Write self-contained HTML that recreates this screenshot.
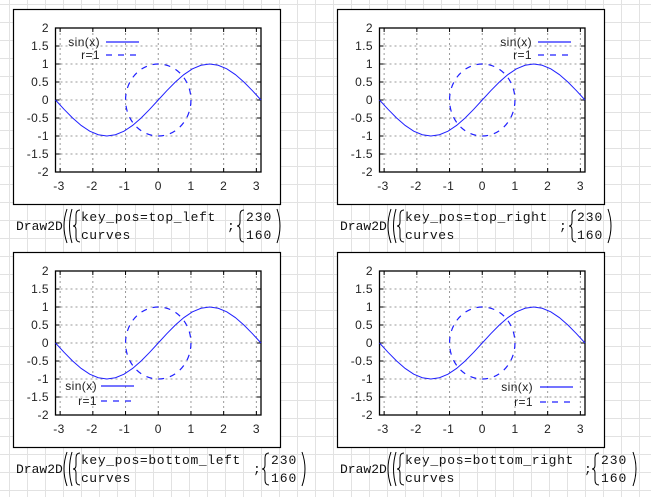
<!DOCTYPE html>
<html><head><meta charset="utf-8"><style>
html,body{margin:0;padding:0}
body{width:651px;height:497px;overflow:hidden;background-color:#fff;
background-image:linear-gradient(to right,#e2e2e2 1px,transparent 1px),linear-gradient(to bottom,#e2e2e2 1px,transparent 1px);
background-size:18px 18px;background-position:9px 4px;}
svg{position:absolute;left:0;top:0}
.ax{font-family:"Liberation Sans",Arial,sans-serif;font-size:12px;letter-spacing:0.4px;fill:#222}
.m{font-family:"Liberation Mono","Courier New",monospace;font-size:13px;letter-spacing:0.65px;fill:#111}
.d{letter-spacing:0}
</style></head><body>
<svg width="651" height="497" viewBox="0 0 651 497">
<defs>
<g id="panel">
<rect x="0.5" y="0.5" width="267" height="195" fill="#fff" stroke="#000" stroke-width="1.2"/>
<g stroke="#999" stroke-width="1" stroke-dasharray="2,3">
<line x1="47.13" y1="19" x2="47.13" y2="163"/><line x1="79.84" y1="19" x2="79.84" y2="163"/>
<line x1="112.54" y1="19" x2="112.54" y2="163"/><line x1="145.25" y1="19" x2="145.25" y2="163"/>
<line x1="177.96" y1="19" x2="177.96" y2="163"/><line x1="210.66" y1="19" x2="210.66" y2="163"/>
<line x1="243.37" y1="19" x2="243.37" y2="163"/>
<line x1="42.5" y1="37" x2="248" y2="37"/><line x1="42.5" y1="55" x2="248" y2="55"/>
<line x1="42.5" y1="73" x2="248" y2="73"/><line x1="42.5" y1="91" x2="248" y2="91"/>
<line x1="42.5" y1="109" x2="248" y2="109"/><line x1="42.5" y1="127" x2="248" y2="127"/>
<line x1="42.5" y1="145" x2="248" y2="145"/>
</g>
<g stroke="#000" stroke-width="1">
<path d="M47.13 19v4M79.84 19v4M112.54 19v4M145.25 19v4M177.96 19v4M210.66 19v4M243.37 19v4
M47.13 163v-4M79.84 163v-4M112.54 163v-4M145.25 163v-4M177.96 163v-4M210.66 163v-4M243.37 163v-4
M42.5 37h4M42.5 55h4M42.5 73h4M42.5 91h4M42.5 109h4M42.5 127h4M42.5 145h4
M248 37h-4M248 55h-4M248 73h-4M248 91h-4M248 109h-4M248 127h-4M248 145h-4"/>
<rect x="42.5" y="19" width="205.5" height="144" fill="none" stroke-width="1.3"/>
</g>
<g class="ax" text-anchor="end">
<text x="36" y="23">2</text><text x="36" y="41">1.5</text><text x="36" y="59">1</text>
<text x="36" y="77">0.5</text><text x="36" y="95">0</text><text x="36" y="113">-0.5</text>
<text x="36" y="131">-1</text><text x="36" y="149">-1.5</text><text x="36" y="167">-2</text>
</g>
<g class="ax" text-anchor="middle">
<text x="46" y="181">-3</text><text x="79" y="181">-2</text><text x="111.5" y="181">-1</text>
<text x="145.25" y="181">0</text><text x="178" y="181">1</text><text x="210.66" y="181">2</text>
<text x="243.37" y="181">3</text>
</g>
<polyline fill="none" stroke="#2020ff" stroke-width="1" points="42.5,91 51.06,100.32 59.63,109 68.19,116.46 76.75,122.18 85.31,125.77 93.88,127 102.44,125.77 111,122.18 119.56,116.46 128.13,109 136.69,100.32 145.25,91 153.81,81.68 162.38,73 170.94,65.54 179.5,59.82 188.06,56.23 196.63,55 205.19,56.23 213.75,59.82 222.31,65.54 230.88,73 239.44,81.68 248,91"/>
<ellipse cx="145.25" cy="91" rx="32.7" ry="36" fill="none" stroke="#2020ff" stroke-width="1.2" stroke-dasharray="6,6"/>
</g>
</defs>
<use href="#panel" x="13" y="9"/>
<use href="#panel" x="337" y="9"/>
<use href="#panel" x="13" y="252"/>
<use href="#panel" x="337" y="252"/>

<g class="ax" text-anchor="end">
<text x="100" y="46">sin(x)</text><text x="100" y="59">r=1</text>
<text x="532" y="46">sin(x)</text><text x="532" y="59">r=1</text>
<text x="97" y="390">sin(x)</text><text x="97" y="405">r=1</text>
<text x="533" y="391">sin(x)</text><text x="533" y="406">r=1</text>
</g>
<g stroke="#2020ff" stroke-width="1.2">
<line x1="106" y1="42" x2="139" y2="42"/>
<line x1="106" y1="55" x2="139" y2="55" stroke-dasharray="6,6"/>
<line x1="538" y1="42" x2="571" y2="42"/>
<line x1="538" y1="55" x2="571" y2="55" stroke-dasharray="6,6"/>
<line x1="101" y1="386" x2="134" y2="386"/>
<line x1="101" y1="401" x2="134" y2="401" stroke-dasharray="6,6"/>
<line x1="540" y1="387" x2="573" y2="387"/>
<line x1="540" y1="402" x2="573" y2="402" stroke-dasharray="6,6"/>
</g>

<g class="m">
<text class="d" x="16" y="230">Draw2D</text>
<text x="81" y="221" textLength="135" lengthAdjust="spacing">key_pos=top_left</text><text x="81" y="239" textLength="50" lengthAdjust="spacing">curves</text>
<text x="227" y="230">;</text>
<text x="246" y="221" textLength="26" lengthAdjust="spacing">230</text><text x="246" y="239" textLength="26" lengthAdjust="spacing">160</text>

<text class="d" x="340" y="230">Draw2D</text>
<text x="405" y="221" textLength="143" lengthAdjust="spacing">key_pos=top_right</text><text x="405" y="239" textLength="50" lengthAdjust="spacing">curves</text>
<text x="559" y="230">;</text>
<text x="577" y="221" textLength="26" lengthAdjust="spacing">230</text><text x="577" y="239" textLength="26" lengthAdjust="spacing">160</text>

<text class="d" x="16" y="473">Draw2D</text>
<text x="81" y="464" textLength="160" lengthAdjust="spacing">key_pos=bottom_left</text><text x="81" y="482" textLength="50" lengthAdjust="spacing">curves</text>
<text x="253" y="473">;</text>
<text x="271" y="464" textLength="26" lengthAdjust="spacing">230</text><text x="271" y="482" textLength="26" lengthAdjust="spacing">160</text>

<text class="d" x="340" y="473">Draw2D</text>
<text x="405" y="464" textLength="169" lengthAdjust="spacing">key_pos=bottom_right</text><text x="405" y="482" textLength="50" lengthAdjust="spacing">curves</text>
<text x="584" y="473">;</text>
<text x="601" y="464" textLength="26" lengthAdjust="spacing">230</text><text x="601" y="482" textLength="26" lengthAdjust="spacing">160</text>
</g>
<g fill="none" stroke="#000" stroke-width="1">
<path d="M67 209 Q61 226 67 243M72 209 Q67 226 72 243"/>
<path d="M80 210 Q76 210 76 215 L76 222 Q76 226 73 226 Q76 226 76 230 L76 237 Q76 242 80 242"/>
<path d="M244 210 Q240 210 240 215 L240 222 Q240 226 237 226 Q240 226 240 230 L240 237 Q240 242 244 242"/>
<path d="M277 209 Q283 226 277 243"/>
<path d="M391 209 Q385 226 391 243M396 209 Q391 226 396 243"/>
<path d="M404 210 Q400 210 400 215 L400 222 Q400 226 397 226 Q400 226 400 230 L400 237 Q400 242 404 242"/>
<path d="M576 210 Q572 210 572 215 L572 222 Q572 226 569 226 Q572 226 572 230 L572 237 Q572 242 576 242"/>
<path d="M608 209 Q614 226 608 243"/>
<path d="M67 452 Q61 469 67 486M72 452 Q67 469 72 486"/>
<path d="M80 453 Q76 453 76 458 L76 465 Q76 469 73 469 Q76 469 76 473 L76 480 Q76 485 80 485"/>
<path d="M269 453 Q265 453 265 458 L265 465 Q265 469 262 469 Q265 469 265 473 L265 480 Q265 485 269 485"/>
<path d="M302 452 Q308 469 302 486"/>
<path d="M391 452 Q385 469 391 486M396 452 Q391 469 396 486"/>
<path d="M404 453 Q400 453 400 458 L400 465 Q400 469 397 469 Q400 469 400 473 L400 480 Q400 485 404 485"/>
<path d="M599 453 Q595 453 595 458 L595 465 Q595 469 592 469 Q595 469 595 473 L595 480 Q595 485 599 485"/>
<path d="M633 452 Q639 469 633 486"/>
</g>
</svg>
</body></html>
